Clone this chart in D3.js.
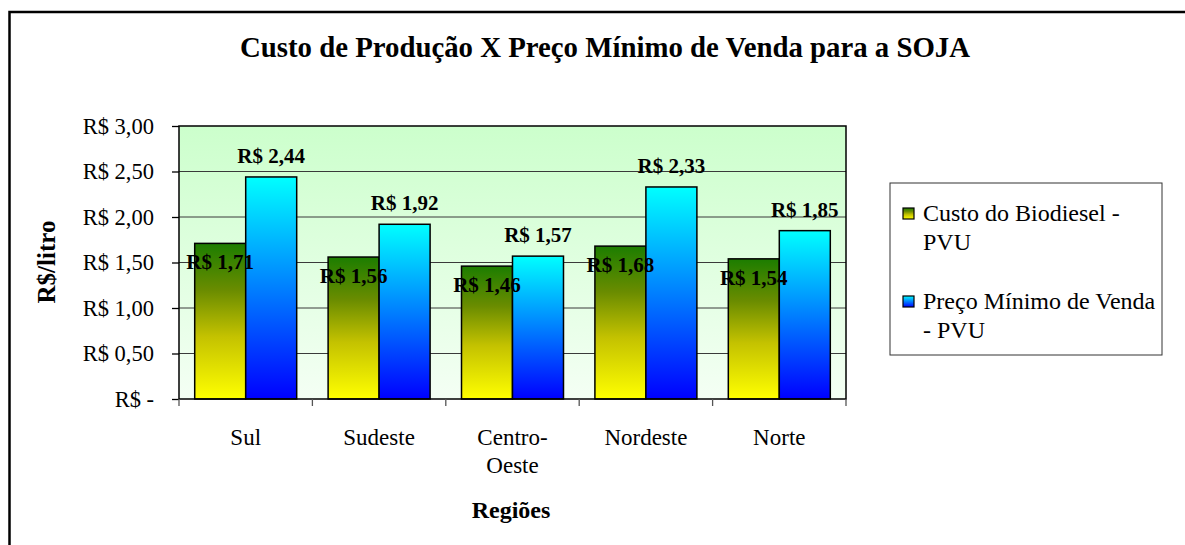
<!DOCTYPE html>
<html>
<head>
<meta charset="utf-8">
<script src="https://cdn.jsdelivr.net/npm/d3@7"></script>
<style>
  body { margin: 0; background: #fff; }
  text { font-family: "Liberation Serif", "Times New Roman", serif; fill: #000; }
</style>
</head>
<body>
<div id="chart"></div>
<script>
// data
const regions = ["Sul", "Sudeste", "Centro-Oeste", "Nordeste", "Norte"];
const regionLines = [["Sul"], ["Sudeste"], ["Centro-", "Oeste"], ["Nordeste"], ["Norte"]];
const series = ["Custo do Biodiesel - PVU", "Preço Mínimo de Venda - PVU"];
const custo = [1.71, 1.56, 1.46, 1.68, 1.54];
const precoMinimo = [2.44, 1.92, 1.57, 2.33, 1.85];
const yTicks = [0, 0.5, 1, 1.5, 2, 2.5, 3];

const W = 1185, H = 545;
const plot = { left: 179, right: 846, top: 126, bottom: 399 };

const fmt = v => v === 0 ? "R$ -" : "R$ " + v.toFixed(2).replace(".", ",");

const svg = d3.select("#chart").append("svg")
    .attr("width", W)
    .attr("height", H);

const defs = svg.append("defs");

// plot background gradient
const bg = defs.append("linearGradient").attr("id", "bgGrad")
    .attr("x1", 0).attr("y1", 0).attr("x2", 0).attr("y2", 1);
bg.append("stop").attr("offset", "0%").attr("stop-color", "#ccffcc");
bg.append("stop").attr("offset", "100%").attr("stop-color", "#f4fff4");

// bar gradients (green one goes through olive like the original)
const gradStops = [
    [[0, "#1c7d00"], [0.3, "#6a8c00"], [0.6, "#c4c200"], [1, "#ffff00"]],
    [[0, "#00ffff"], [1, "#0000ff"]]
];
gradStops.forEach((stops, i) => {
    const g = defs.append("linearGradient").attr("id", "barGrad" + i)
        .attr("x1", 0).attr("y1", 0).attr("x2", 0).attr("y2", 1);
    stops.forEach(s => g.append("stop")
        .attr("offset", s[0])
        .attr("stop-color", s[1]));
});

// outer frame (cut off at the right and bottom)
svg.append("rect")
    .attr("x", 9.5).attr("y", 12)
    .attr("width", 1300).attr("height", 700)
    .attr("fill", "none")
    .attr("stroke", "#000")
    .attr("stroke-width", 2.5);

// scales
const x = d3.scaleBand()
    .domain(regions)
    .range([plot.left, plot.right])
    .padding(0);

const xSub = d3.scaleBand()
    .domain(series)
    .range([0, x.bandwidth()])
    .paddingInner(0)
    .paddingOuter(0.308);

const y = d3.scaleLinear()
    .domain([0, 3])
    .range([plot.bottom, plot.top]);

// plot area
svg.append("rect")
    .attr("x", plot.left).attr("y", plot.top)
    .attr("width", plot.right - plot.left)
    .attr("height", plot.bottom - plot.top)
    .attr("fill", "url(#bgGrad)");

// gridlines
svg.append("g")
    .selectAll("line")
    .data(yTicks.slice(1, -1))
    .join("line")
    .attr("x1", plot.left).attr("x2", plot.right)
    .attr("y1", d => y(d)).attr("y2", d => y(d))
    .attr("stroke", "#3a3a3a")
    .attr("stroke-width", 1);

// bars
const rows = regions.map((r, i) => ({ region: r, values: [custo[i], precoMinimo[i]] }));

const groups = svg.append("g")
    .selectAll("g")
    .data(rows)
    .join("g")
    .attr("transform", d => `translate(${x(d.region)},0)`);

groups.selectAll("rect")
    .data(d => d.values.map((v, i) => ({ key: series[i], idx: i, value: v })))
    .join("rect")
    .attr("x", d => xSub(d.key))
    .attr("y", d => y(d.value))
    .attr("width", xSub.bandwidth())
    .attr("height", d => y(0) - y(d.value))
    .attr("fill", d => `url(#barGrad${d.idx})`)
    .attr("stroke", "#000")
    .attr("stroke-width", 1.5);

// data labels
groups.selectAll("text")
    .data(d => d.values.map((v, i) => ({ key: series[i], idx: i, value: v })))
    .join("text")
    .attr("x", d => xSub(d.key) + xSub.bandwidth() / 2)
    .attr("y", d => d.idx === 0 ? y(d.value) + 26 : y(d.value) - 14)
    .attr("text-anchor", "middle")
    .style("font-size", "21px")
    .style("font-weight", "bold")
    .text(d => fmt(d.value));

// plot frame
svg.append("rect")
    .attr("x", plot.left).attr("y", plot.top)
    .attr("width", plot.right - plot.left)
    .attr("height", plot.bottom - plot.top)
    .attr("fill", "none")
    .attr("stroke", "#000")
    .attr("stroke-width", 1.5);

// y axis
const yAxis = d3.axisLeft(y)
    .tickValues(yTicks)
    .tickSize(7)
    .tickPadding(18)
    .tickFormat(fmt);

svg.append("g")
    .attr("transform", `translate(${plot.left},0)`)
    .call(yAxis)
    .call(g => g.select(".domain").remove())
    .call(g => g.selectAll("line").attr("stroke", "#000").attr("stroke-width", 1.3))
    .call(g => g.selectAll("text")
        .attr("font-family", null)
        .attr("font-size", null)
        .style("font-size", "22.5px"));

// x axis ticks at the category boundaries
const bounds = regions.map(r => x(r)).concat([plot.right]);
svg.append("g")
    .selectAll("line")
    .data(bounds)
    .join("line")
    .attr("x1", d => d).attr("x2", d => d)
    .attr("y1", plot.bottom).attr("y2", plot.bottom + 7)
    .attr("stroke", "#555")
    .attr("stroke-width", 1.3);

// category labels
const cat = svg.append("g")
    .selectAll("text")
    .data(regions)
    .join("text")
    .attr("x", d => x(d) + x.bandwidth() / 2)
    .attr("y", 445)
    .attr("text-anchor", "middle")
    .style("font-size", "23px");

cat.selectAll("tspan")
    .data((d, i) => regionLines[i])
    .join("tspan")
    .attr("x", function () { return d3.select(this.parentNode).attr("x"); })
    .attr("dy", (d, i) => i === 0 ? 0 : 28)
    .text(d => d);

// title
svg.append("text")
    .attr("x", 605)
    .attr("y", 57)
    .attr("text-anchor", "middle")
    .style("font-size", "28.8px")
    .style("font-weight", "bold")
    .text("Custo de Produção X Preço Mínimo de Venda para a SOJA");

// axis titles
svg.append("text")
    .attr("x", 511)
    .attr("y", 518)
    .attr("text-anchor", "middle")
    .style("font-size", "24px")
    .style("font-weight", "bold")
    .text("Regiões");

svg.append("text")
    .attr("transform", "translate(55,262) rotate(-90)")
    .attr("text-anchor", "middle")
    .style("font-size", "25px")
    .style("font-weight", "bold")
    .text("R$/litro");

// legend
const legend = svg.append("g").attr("transform", "translate(890,183)");

legend.append("rect")
    .attr("width", 272).attr("height", 172)
    .attr("fill", "#fff")
    .attr("stroke", "#333")
    .attr("stroke-width", 1);

const legendLines = [["Custo do Biodiesel -", "PVU"], ["Preço Mínimo de Venda", "- PVU"]];

const item = legend.selectAll("g.item")
    .data(series)
    .join("g")
    .attr("class", "item")
    .attr("transform", (d, i) => `translate(0,${i * 88})`);

item.append("rect")
    .attr("x", 13).attr("y", 25)
    .attr("width", 11).attr("height", 11)
    .attr("fill", (d, i) => `url(#barGrad${i})`)
    .attr("stroke", "#000")
    .attr("stroke-width", 1.2);

item.append("text")
    .attr("y", 38)
    .style("font-size", "24px")
    .selectAll("tspan")
    .data((d, i) => legendLines[i])
    .join("tspan")
    .attr("x", 33)
    .attr("dy", (d, i) => i === 0 ? 0 : 29)
    .text(d => d);
</script>
</body>
</html>
